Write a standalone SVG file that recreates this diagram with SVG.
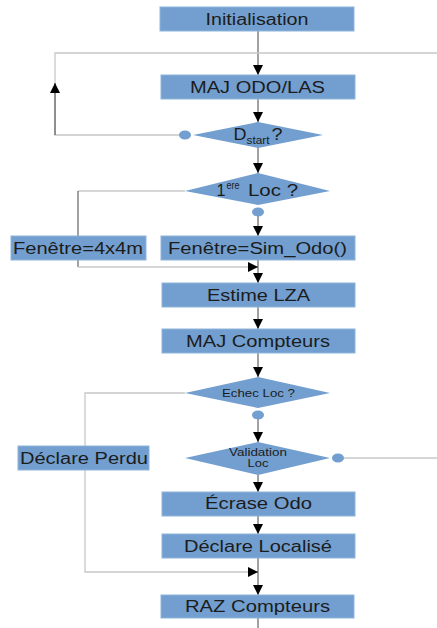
<svg xmlns="http://www.w3.org/2000/svg" width="437" height="628" viewBox="0 0 437 628">
<defs>
<style>
.box{fill:#729fcf;stroke:#8fb4dc;stroke-width:1}
.dia{fill:#729fcf;stroke:none}
.t{font-family:"Liberation Sans",Arial,sans-serif;font-size:16px;fill:#1c1c1c;text-anchor:middle}
.ts{font-family:"Liberation Sans",Arial,sans-serif;font-size:10px;fill:#1c1c1c;text-anchor:middle}
.main{stroke:#444;stroke-width:1;fill:none}
.side{stroke:#c8c8c8;stroke-width:1.3;fill:none}
.dot{fill:#729fcf}
</style>
<marker id="ah" viewBox="0 0 10 10" refX="10" refY="5" markerWidth="10" markerHeight="10" markerUnits="userSpaceOnUse" orient="auto">
<path d="M0,0 L10,5 L0,10 z" fill="#000"/>
</marker>
</defs>
<g id="connectors">
<path class="main" d="M258,31 V75" marker-end="url(#ah)"/>
<path class="side" d="M437,53 H55 V135 H185"/>
<path class="main" d="M55,135 V83" marker-end="url(#ah)"/>
<path class="main" d="M258,99 V122" marker-end="url(#ah)"/>
<path class="main" d="M258,148 V173" marker-end="url(#ah)"/>
<path class="side" d="M185,191 H78"/>
<path class="main" d="M78,191 V236"/>
<path class="main" d="M258,212 V236" marker-end="url(#ah)"/>
<path class="main" d="M78,260 V267"/>
<path class="side" d="M78,267 H248"/>
<path class="main" d="M248,267 H258" marker-end="url(#ah)"/>
<path class="main" d="M258,260 V283" marker-end="url(#ah)"/>
<path class="main" d="M258,307 V329" marker-end="url(#ah)"/>
<path class="main" d="M258,353 V377" marker-end="url(#ah)"/>
<path class="side" d="M185,393 H85 V572 H248"/>
<path class="main" d="M248,572 H258" marker-end="url(#ah)"/>
<path class="main" d="M258,415 V442" marker-end="url(#ah)"/>
<path class="side" d="M338,458 H437"/>
<path class="main" d="M258,475 V492" marker-end="url(#ah)"/>
<path class="main" d="M258,516 V534" marker-end="url(#ah)"/>
<path class="main" d="M258,558 V595" marker-end="url(#ah)"/>
<path class="main" d="M258,618 V628"/>
</g>
<g id="initialisation">
<rect class="box" x="160" y="7" width="194" height="24"/>
<text class="t" x="257" y="25" textLength="103" lengthAdjust="spacingAndGlyphs">Initialisation</text>
</g>
<g id="maj-odo-las">
<rect class="box" x="161" y="75" width="194" height="24"/>
<text class="t" x="257.5" y="93" textLength="135" lengthAdjust="spacingAndGlyphs">MAJ ODO/LAS</text>
</g>
<g id="dstart">
<polygon class="dia" points="193,135 258,122 323,135 258,148"/>
<ellipse class="dot" cx="185" cy="135" rx="6" ry="4.5"/>
<text class="t" x="240" y="140" textLength="13" lengthAdjust="spacingAndGlyphs">D</text>
<text class="ts" x="258" y="144" textLength="23" lengthAdjust="spacingAndGlyphs">start</text>
<text class="t" x="277" y="140" textLength="11" lengthAdjust="spacingAndGlyphs">?</text>
</g>
<g id="premiere-loc">
<polygon class="dia" points="185,191 258,173 330,191 258,205"/>
<ellipse class="dot" cx="258" cy="212" rx="6" ry="4.5"/>
<text class="t" x="221" y="196" textLength="9" lengthAdjust="spacingAndGlyphs">1</text>
<text class="ts" x="233" y="189" textLength="13" lengthAdjust="spacingAndGlyphs">ere</text>
<text class="t" x="273" y="196" textLength="50" lengthAdjust="spacingAndGlyphs">Loc ?</text>
</g>
<g id="fenetre-4x4m">
<rect class="box" x="11" y="236" width="135" height="24"/>
<text class="t" x="78" y="254" textLength="130" lengthAdjust="spacingAndGlyphs">Fenêtre=4x4m</text>
</g>
<g id="fenetre-sim">
<rect class="box" x="161" y="236" width="194" height="24"/>
<text class="t" x="257.5" y="254" textLength="179" lengthAdjust="spacingAndGlyphs">Fenêtre=Sim_Odo()</text>
</g>
<g id="estime-lza">
<rect class="box" x="162" y="283" width="193" height="24"/>
<text class="t" x="258.5" y="301" textLength="103" lengthAdjust="spacingAndGlyphs">Estime LZA</text>
</g>
<g id="maj-compteurs">
<rect class="box" x="162" y="329" width="193" height="24"/>
<text class="t" x="258" y="347" textLength="144" lengthAdjust="spacingAndGlyphs">MAJ Compteurs</text>
</g>
<g id="echec-loc">
<polygon class="dia" points="185,393 258,377 330,393 258,408"/>
<ellipse class="dot" cx="258" cy="415" rx="6" ry="4.5"/>
<text class="ts" x="258.5" y="397" textLength="73" lengthAdjust="spacingAndGlyphs">Echec Loc ?</text>
</g>
<g id="declare-perdu">
<rect class="box" x="18" y="446" width="131" height="24"/>
<text class="t" x="84" y="464" textLength="128" lengthAdjust="spacingAndGlyphs">Déclare Perdu</text>
</g>
<g id="validation-loc">
<polygon class="dia" points="185,458 258,442 330,458 258,475"/>
<ellipse class="dot" cx="338" cy="458" rx="6" ry="4.5"/>
<text class="ts" x="258" y="456" textLength="58" lengthAdjust="spacingAndGlyphs">Validation</text>
<text class="ts" x="258" y="467" textLength="21" lengthAdjust="spacingAndGlyphs">Loc</text>
</g>
<g id="ecrase-odo">
<rect class="box" x="162" y="492" width="193" height="24"/>
<text class="t" x="258.5" y="509" textLength="107" lengthAdjust="spacingAndGlyphs">Écrase Odo</text>
</g>
<g id="declare-localise">
<rect class="box" x="162" y="534" width="193" height="24"/>
<text class="t" x="258" y="552" textLength="148" lengthAdjust="spacingAndGlyphs">Déclare Localisé</text>
</g>
<g id="raz-compteurs">
<rect class="box" x="161" y="595" width="193" height="23"/>
<text class="t" x="257.5" y="612" textLength="145" lengthAdjust="spacingAndGlyphs">RAZ Compteurs</text>
</g>
</svg>
